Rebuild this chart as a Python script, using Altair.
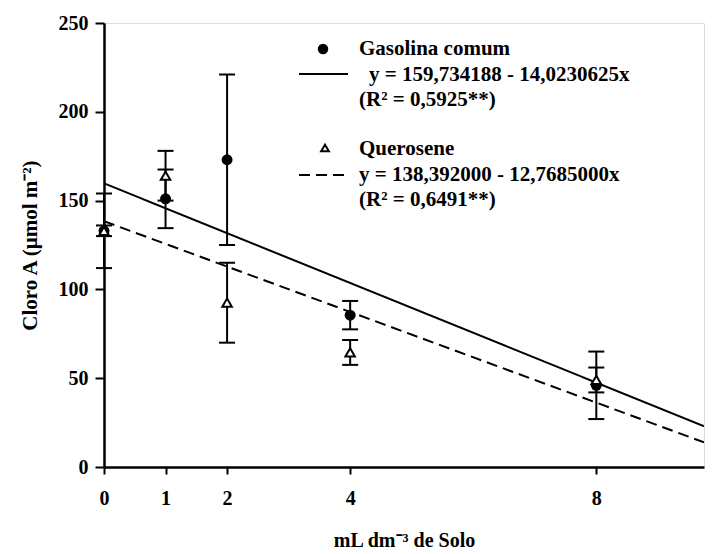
import altair as alt
import pandas as pd

# Doses (mL dm-3 de solo)
doses = [0, 1, 2, 4, 8]
# Gasolina comum (filled circles)
gas_mean = [133, 151, 173, 85.5, 46]
gas_err = [21, 16.5, 48, 8, 19]
# Querosene (open triangles)
ker_mean = [133, 164, 92.5, 64.5, 49]
ker_err = [3, 14, 22.5, 7, 7]
# Regression lines (endpoints read from the equations)
line_x = [0, 9.75]
gas_line = [159.734188, 22.96]
ker_line = [138.392000, 13.90]

xticks = [0, 1, 2, 4, 8]
yticks = [0, 50, 100, 150, 200, 250]

FONT = "Liberation Serif"
FS = 20
FL = 21

pts = pd.DataFrame({
    "x": doses * 2,
    "y": gas_mean + ker_mean,
    "lo": [m - e for m, e in zip(gas_mean, gas_err)] + [m - e for m, e in zip(ker_mean, ker_err)],
    "hi": [m + e for m, e in zip(gas_mean, gas_err)] + [m + e for m, e in zip(ker_mean, ker_err)],
    "s": ["Gasolina comum"] * 5 + ["Querosene"] * 5,
})
lines = pd.DataFrame({
    "x": line_x * 2,
    "y": gas_line + ker_line,
    "s": ["Gasolina comum"] * 2 + ["Querosene"] * 2,
})

xs = alt.Scale(domain=[0, 9.75], nice=False, zero=False)
ys = alt.Scale(domain=[0, 250], nice=False)

xax = alt.Axis(values=xticks, format="d", grid=False, labelFlush=False, labelFont=FONT, labelFontSize=FS,
               labelFontWeight="bold", labelColor="black", tickColor="black", tickSize=7, tickWidth=2,
               domainColor="black", domainWidth=2.5, labelPadding=14, title="mL dm\u207b\u00b3 de Solo",
               titleFont=FONT, titleFontSize=FS, titleFontWeight="bold", titleColor="black", titlePadding=22)
yax = alt.Axis(values=yticks, format="d", grid=False, labelFlush=False, labelFont=FONT, labelFontSize=FS,
               labelFontWeight="bold", labelColor="black", tickColor="black", tickSize=9, tickWidth=2,
               domainColor="black", domainWidth=2.5, labelPadding=7, title="Cloro A (\u00b5mol m\u207b\u00b2)",
               titleFont=FONT, titleFontSize=FL, titleFontWeight="bold", titleColor="black", titleAngle=-90,
               titleX=-74, titleY=222, titleAlign="center", titleBaseline="middle")

dash_scale = alt.Scale(domain=["Gasolina comum", "Querosene"], range=[[1, 0], [11, 6]])

base = alt.Chart(pts)
line_ch = alt.Chart(lines).mark_line(color="black", strokeWidth=2, clip=True).encode(
    x=alt.X("x:Q", scale=xs, axis=xax),
    y=alt.Y("y:Q", scale=ys, axis=yax),
    strokeDash=alt.StrokeDash("s:N", scale=dash_scale, legend=None),
)
rules = base.mark_rule(color="black", strokeWidth=2, opacity=1).encode(x="x:Q", y="lo:Q", y2="hi:Q")
cap_lo = base.mark_tick(color="black", thickness=2, size=16, orient="horizontal", opacity=1).encode(
    x="x:Q", y="lo:Q")
cap_hi = base.mark_tick(color="black", thickness=2, size=16, orient="horizontal", opacity=1).encode(
    x="x:Q", y="hi:Q")
gas_pts = base.transform_filter(alt.datum.s == "Gasolina comum").mark_point(
    shape="circle", filled=True, color="black", size=120, opacity=1).encode(x="x:Q", y="y:Q")
ker_pts = base.transform_filter(alt.datum.s == "Querosene").mark_point(
    shape="triangle-up", filled=True, fill="white", stroke="black", strokeWidth=2, size=90, opacity=1
).encode(x="x:Q", y="y:Q")

# Legend block
leg_txt = pd.DataFrame({
    "t": ["Gasolina comum", "y = 159,734188 - 14,0230625x", "(R\u00b2 = 0,5925**)",
          "Querosene", "y = 138,392000 - 12,7685000x", "(R\u00b2 = 0,6491**)"],
    "px": [255, 265, 255, 255, 255, 255],
    "py": [26, 52, 77, 126, 152, 177],
})
leg_text = alt.Chart(leg_txt).mark_text(font=FONT, fontSize=FL, fontWeight="bold", color="black",
                                        align="left", baseline="middle").encode(
    x=alt.X("px:Q", scale=None), y=alt.Y("py:Q", scale=None), text="t:N")
leg_sym = pd.DataFrame({"px": [219, 221], "py": [26, 125], "s": ["Gasolina comum", "Querosene"]})
leg_c = alt.Chart(leg_sym).transform_filter(alt.datum.s == "Gasolina comum").mark_point(
    shape="circle", filled=True, color="black", size=110, opacity=1).encode(
    x=alt.X("px:Q", scale=None), y=alt.Y("py:Q", scale=None))
leg_t = alt.Chart(leg_sym).transform_filter(alt.datum.s == "Querosene").mark_point(
    shape="triangle-up", filled=True, fill="white", stroke="black", strokeWidth=2, size=60, opacity=1).encode(
    x=alt.X("px:Q", scale=None), y=alt.Y("py:Q", scale=None))
leg_l = pd.DataFrame({"x1": [195, 195], "x2": [244, 244], "py": [51, 152], "s": ["Gasolina comum", "Querosene"]})
leg_line = alt.Chart(leg_l).mark_rule(color="black", strokeWidth=2, opacity=1).encode(
    x=alt.X("x1:Q", scale=None), x2="x2:Q", y=alt.Y("py:Q", scale=None),
    strokeDash=alt.StrokeDash("s:N", scale=dash_scale, legend=None))

chart = alt.layer(line_ch, rules, cap_lo, cap_hi, gas_pts, ker_pts,
                  leg_line, leg_c, leg_t, leg_text).properties(
    width=600, height=444,
    autosize=alt.AutoSizeParams(type="none"),
    padding={"left": 96, "top": 15, "right": 2, "bottom": 86},
).configure_view(stroke=None).configure(background="white")

chart.save("out.html", embed_options={"renderer": "svg", "actions": False})
